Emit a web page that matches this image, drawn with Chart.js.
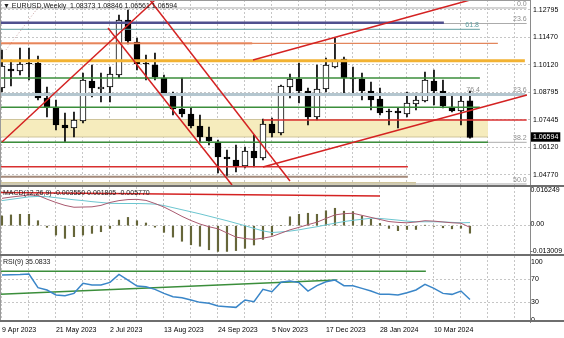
<!DOCTYPE html>
<html>
<head>
<meta charset="utf-8">
<script src="https://cdn.jsdelivr.net/npm/chart.js@4.4.1/dist/chart.umd.min.js"></script>
<style>
body { margin: 0; background: #fff; width: 564px; height: 338px; overflow: hidden; position: relative; }
canvas { position: absolute; left: 0; }
</style>
</head>
<body>
<canvas id="cPrice" width="564" height="187" style="top:0"></canvas>
<canvas id="cMacd" width="564" height="69" style="top:187px"></canvas>
<canvas id="cRsi" width="564" height="82" style="top:256px"></canvas>
<script>
// EURUSD weekly, 9 Apr 2023 .. 7 Apr 2024 (bar index 0..52)
const dateLabels = ['9 Apr 2023', '21 May 2023', '2 Jul 2023', '13 Aug 2023', '24 Sep 2023',
    '5 Nov 2023', '17 Dec 2023', '28 Jan 2024', '10 Mar 2024'];
const dateBars = [0, 6, 12, 18, 24, 30, 36, 42, 48];

const opens = [1.09001, 1.09925, 1.09828, 1.10217, 1.10217, 1.08515, 1.08077, 1.07201, 1.07056, 1.07396,
    1.09341, 1.08953, 1.09050, 1.09633, 1.12308, 1.11238, 1.10217, 1.10120, 1.09487, 1.08709,
    1.07979, 1.07736, 1.07153, 1.06617, 1.06375, 1.05645, 1.05499, 1.05207, 1.05937, 1.05596,
    1.07250, 1.06812, 1.09050, 1.09439, 1.08855, 1.07590, 1.08953, 1.10022, 1.10411, 1.09487,
    1.09439, 1.08855, 1.08466, 1.07882, 1.07882, 1.07736, 1.08223, 1.08369, 1.09341, 1.08855,
    1.08077, 1.07882, 1.08373];
const highs = [1.10849, 1.10363, 1.10946, 1.10946, 1.10557, 1.09050, 1.08417, 1.07785, 1.07834, 1.09730,
    1.10120, 1.09730, 1.10022, 1.12551, 1.12795, 1.11433, 1.10606, 1.10703, 1.09633, 1.08806,
    1.09487, 1.08028, 1.07688, 1.07104, 1.06472, 1.05985, 1.06229, 1.06132, 1.06715, 1.07493,
    1.07542, 1.09147, 1.09682, 1.10217, 1.09001, 1.10120, 1.10460, 1.11433, 1.10509, 1.10022,
    1.09730, 1.09293, 1.09001, 1.07979, 1.08028, 1.08806, 1.08758, 1.09779, 1.09876, 1.09390,
    1.08660, 1.08660, 1.08846];
const lows = [1.08806, 1.09098, 1.09633, 1.09390, 1.08417, 1.07590, 1.06958, 1.06375, 1.06617, 1.07299,
    1.08563, 1.08320, 1.08320, 1.09487, 1.11140, 1.09876, 1.09390, 1.09390, 1.08660, 1.07688,
    1.07590, 1.07056, 1.06375, 1.06229, 1.04867, 1.04721, 1.04916, 1.05110, 1.05159, 1.05499,
    1.06617, 1.06715, 1.08515, 1.08271, 1.07201, 1.07445, 1.08806, 1.09974, 1.08758, 1.08758,
    1.08417, 1.07931, 1.07688, 1.07201, 1.07056, 1.07590, 1.07931, 1.08320, 1.08174, 1.08028,
    1.07834, 1.07201, 1.06561];
const closes = [1.10071, 1.09828, 1.10168, 1.10168, 1.08515, 1.08077, 1.07201, 1.07056, 1.07445, 1.09390,
    1.09001, 1.09050, 1.09682, 1.12308, 1.11287, 1.10168, 1.10168, 1.09536, 1.08758, 1.07979,
    1.07736, 1.07153, 1.06617, 1.06423, 1.05645, 1.05547, 1.05159, 1.05937, 1.05596, 1.07250,
    1.06812, 1.09098, 1.09439, 1.08855, 1.07590, 1.08953, 1.10120, 1.10363, 1.09487, 1.09439,
    1.08855, 1.08417, 1.07785, 1.07834, 1.07785, 1.08271, 1.08417, 1.09390, 1.08855, 1.08126,
    1.07882, 1.08369, 1.06594];

const priceTicks = [1.12795, 1.11470, 1.10120, 1.08795, 1.07445, 1.06120, 1.04770];
const lastPrice = 1.06594;

// MACD(12,26,9)
const macdHist = [0.0047, 0.0052, 0.0055, 0.0055, 0.0024, -0.0008, -0.0045, -0.0061, -0.0053, -0.0045,
    -0.0037, -0.0029, -0.0013, 0.0027, 0.0040, 0.0024, 0.0013, -0.0007, -0.0032, -0.0055,
    -0.0075, -0.0092, -0.0099, -0.0116, -0.0124, -0.0124, -0.0120, -0.0109, -0.0093, -0.0066,
    -0.0045, 0.0000, 0.0043, 0.0055, 0.0060, 0.0055, 0.0072, 0.0084, 0.0070, 0.0068,
    0.0047, 0.0031, 0.0011, -0.0013, -0.0024, -0.0018, -0.0018, 0.0002, -0.0003, -0.0010,
    -0.0015, -0.0012, -0.0036];
const macdSignal = [0.0121, 0.0127, 0.0133, 0.0139, 0.0141, 0.0140, 0.0135, 0.0130, 0.0125, 0.0121,
    0.0116, 0.0112, 0.0108, 0.0107, 0.0107, 0.0107, 0.0106, 0.0104, 0.0097, 0.0087,
    0.0077, 0.0067, 0.0057, 0.0046, 0.0035, 0.0024, 0.0012, 0.0000, -0.0013, -0.0025,
    -0.0033, -0.0030, -0.0026, -0.0020, -0.0012, -0.0005, 0.0004, 0.0012, 0.0020, 0.0026,
    0.0031, 0.0036, 0.0035, 0.0031, 0.0027, 0.0022, 0.0019, 0.0019, 0.0019, 0.0018,
    0.0016, 0.0014, 0.0015];
const macdMain = [0.0132, 0.0138, 0.0143, 0.0148, 0.0146, 0.0128, 0.0112, 0.0098, 0.0089, 0.0090,
    0.0091, 0.0098, 0.0112, 0.0121, 0.0126, 0.0127, 0.0122, 0.0107, 0.0090, 0.0068,
    0.0045, 0.0025, 0.0008, -0.0005, -0.0015, -0.0035, -0.0055, -0.0062, -0.0066, -0.0060,
    -0.0052, -0.0036, -0.0020, -0.0008, 0.0005, 0.0017, 0.0035, 0.0052, 0.0058, 0.0060,
    0.0050, 0.0040, 0.0030, 0.0020, 0.0016, 0.0014, 0.0018, 0.0024, 0.0022, 0.0018,
    0.0014, 0.0012, -0.0008];
const macdTicks = [0.016249, 0, -0.013009];

// RSI(9)
const rsi9 = [77.2, 77.5, 78.0, 78.9, 55.4, 51.5, 42.9, 41.7, 45.7, 62.9,
    60.0, 60.0, 64.6, 78.3, 68.6, 58.3, 57.2, 52.6, 45.7, 40.0,
    38.3, 34.3, 30.3, 28.6, 24.0, 22.9, 21.7, 34.3, 31.4, 52.6,
    48.6, 64.7, 66.9, 64.2, 49.7, 58.9, 65.7, 68.6, 58.9, 58.9,
    54.3, 49.7, 44.0, 44.0, 42.9, 46.9, 51.5, 61.2, 54.3, 45.7,
    44.0, 49.7, 35.1];
const rsiTicks = [100, 70, 30, 0];

// drawn objects: [price, first bar, last bar]
const fibGray = [[1.12892, -1, 58.3], [1.12138, -1, 58.3], [1.08685, -1, 58.3], [1.06360, -1, 58.3], [1.04332, -1, 58.3]];
const navyLevel = [1.12177, -1, 49.1];
const tealLevel = [1.11856, -1, 53.1];
const orangeLevels = [[1.11175, -1, 55.1], [1.11175, -1, 27.8]];
const goldLevel = [1.10329, -1, 58.1];
const steelLevel = [1.08685, -1, 58.1];
const greenLevels = [[1.09488, -1, 53.1], [1.08062, -1, 53.1], [1.06360, -1, 54.0]];
const redLevels = [[1.07445, 29.0, 58.3], [1.05173, -1, 45.1]];
const brownLevel = [1.04687, -1, 45.1];
// zones: [top price, bottom price, last bar]
const zones = [[1.07469, 1.06618, 54.0], [1.04405, 1.04150, 46.0]];
// trend lines: [bar, price] pairs
const trendLines = [
    [[0, 1.06375], [17, 1.13281]],
    [[11.78, 1.11919], [25.56, 1.04283]],
    [[16.44, 1.13281], [32, 1.04478]],
    [[29, 1.05159], [58.33, 1.08661]],
    [[27.89, 1.10363], [52, 1.13281]]
];
const dottedLine = [[0.44, 1.10850], [4.22, 1.13038]];
const fibTexts = ['0.0', '23.6', '61.8', '76.4', '23.6', '38.2', '50.0'];
const fibTextBars = [58.3, 58.3, 53.0, 53.1, 58.3, 58.3, 58.3];
const fibTextPrices = [1.12892, 1.12138, 1.11856, 1.08685, 1.08685, 1.06360, 1.04332];

const macdLine = [[-1, 0.0161], [42, 0.0143]];
const rsiLevel = [83.5, -1, 47.1];
const rsiTrend = [[-0.22, 44.1], [37.2, 68.6]];

const xMin = -0.22, xMax = 58.67;
const gridBars = [];
for (let b = 0; b <= 57; b += 3) gridBars.push(b);

const fnt = { family: "'Liberation Sans', Arial, sans-serif", size: 7 };
const gridCol = '#c6c6c6';

function seg(points, color, width, dash) {
    return {
        type: 'line',
        data: points.map(p => ({ x: p[0], y: p[1] })),
        borderColor: color,
        borderWidth: width,
        borderDash: dash || [],
        pointRadius: 0,
        fill: false,
        clip: 0,
        order: 20
    };
}
function level(l, color, width) {
    return seg([[l[1], l[0]], [l[2], l[0]]], color, width);
}

function xAxis(showLabels) {
    return {
        type: 'linear',
        min: xMin,
        max: xMax,
        offset: false,
        grid: { color: gridCol, drawTicks: false, offset: false },
        border: { display: false, dash: [2, 2] },
        ticks: {
            display: showLabels,
            autoSkip: false,
            maxRotation: 0,
            align: 'start',
            padding: 4,
            color: '#000',
            font: fnt,
            callback: v => {
                const k = dateBars.indexOf(v);
                return k >= 0 ? dateLabels[k] : '';
            }
        },
        afterBuildTicks: s => { s.ticks = gridBars.map(v => ({ value: v })); },
        afterFit: s => {
            s.height = showLabels ? 16 : 0;
            s.paddingLeft = 0;
            s.paddingRight = 0;
        }
    };
}

function yAxis(min, max, ticks, fmt, gridOn, pad, shift) {
    return {
        type: 'linear',
        position: 'right',
        min: min,
        max: max,
        grid: {
            drawTicks: false,
            color: c => (c.tick && gridOn(c.tick.value)) ? gridCol : 'rgba(0,0,0,0)'
        },
        border: { display: true, color: '#8a8a8a', width: 1, dash: [2, 2] },
        ticks: {
            padding: pad,
            labelOffset: shift || 0,
            font: fnt,
            color: c => (c.tick && c.tick.value === lastPrice && fmt === fmtPrice) ? '#fff' : '#000',
            showLabelBackdrop: c => !!(c.tick && c.tick.value === lastPrice && fmt === fmtPrice),
            backdropColor: '#000',
            backdropPadding: { top: 1, bottom: 0, left: 2, right: 2 },
            callback: v => fmt(v)
        },
        afterBuildTicks: s => { s.ticks = ticks.map(v => ({ value: v })); },
        afterFit: s => {
            s.width = 34;
            s.paddingTop = 0;
            s.paddingBottom = 0;
        }
    };
}
const fmtPrice = v => v.toFixed(5);

// frame and texts
const panelPlugin = {
    id: 'panel',
    beforeDraw(chart) {
        const ctx = chart.ctx;
        ctx.save();
        ctx.fillStyle = '#fff';
        ctx.fillRect(0, 0, chart.width, chart.height);
        ctx.restore();
    },
    afterDraw(chart, args, opts) {
        const ctx = chart.ctx, a = chart.chartArea;
        ctx.save();
        ctx.strokeStyle = '#9a9a9a';
        ctx.lineWidth = 1;
        ctx.beginPath();
        ctx.moveTo(a.left + 0.5, a.top);
        ctx.lineTo(a.left + 0.5, a.bottom);
        ctx.stroke();
        ctx.strokeStyle = '#6e6e6e';
        ctx.lineWidth = 2;
        ctx.beginPath();
        ctx.moveTo(a.left, a.bottom - 1);
        ctx.lineTo(chart.width, a.bottom - 1);
        ctx.stroke();
        if (opts.topLine) {
            ctx.strokeStyle = '#9a9a9a';
            ctx.lineWidth = 1;
            ctx.beginPath();
            ctx.moveTo(a.left, a.top + 0.5);
            ctx.lineTo(a.right, a.top + 0.5);
            ctx.stroke();
        }
        ctx.font = fnt.size + 'px ' + fnt.family;
        ctx.textBaseline = 'middle';
        ctx.textAlign = 'left';
        ctx.fillStyle = '#202020';
        if (opts.title) ctx.fillText(opts.title, a.left + 3, a.top + 6);
        if (opts.fib) {
            const xs = chart.scales.x, ys = chart.scales.y;
            ctx.textAlign = 'right';
            ctx.textBaseline = 'bottom';
            fibTexts.forEach((t, k) => {
                ctx.fillStyle = t === '61.8' ? '#5f9ea0' : '#8e8e8e';
                ctx.fillText(t, xs.getPixelForValue(fibTextBars[k]), ys.getPixelForValue(fibTextPrices[k]) - 0.5);
            });
        }
        ctx.restore();
    }
};

const common = {
    responsive: false,
    animation: false,
    events: [],
    layout: { padding: 0 }
};

// price panel
const idx = opens.map((v, i) => i);
const priceSets = [];
zones.forEach(z => {
    const d = seg([[-1, z[0]], [z[2], z[0]]], '#cfc49a', 1);
    d.fill = { value: z[1] };
    d.backgroundColor = '#f6ecbd';
    d.order = 100;
    priceSets.push(d);
    const e = seg([[-1, z[1]], [z[2], z[1]]], '#cfc49a', 1);
    e.order = 99;
    priceSets.push(e);
});
priceSets.push({
    type: 'bar',
    data: idx.map(i => ({ x: i, y: [lows[i], highs[i]] })),
    backgroundColor: '#000',
    borderWidth: 0,
    barThickness: 1,
    grouped: false,
    order: 60
});
priceSets.push({
    type: 'bar',
    data: idx.map(i => ({ x: i, y: [opens[i], closes[i]] })),
    backgroundColor: idx.map(i => closes[i] >= opens[i] ? '#fff' : '#000'),
    borderColor: '#000',
    borderWidth: 1,
    borderSkipped: false,
    barThickness: 6,
    grouped: false,
    order: 50
});
fibGray.forEach(l => { const d = level(l, '#ababab', 1); d.order = 40; priceSets.push(d); });
priceSets.push(level(navyLevel, '#50508e', 2.5));
priceSets.push(level(tealLevel, '#5f9ea0', 1));
priceSets.push(level(orangeLevels[0], '#e3865c', 1.2));
priceSets.push(level(orangeLevels[1], '#f0602a', 1.8));
priceSets.push(level(goldLevel, '#f2b233', 3));
priceSets.push(level(steelLevel, '#b4c6cf', 3));
greenLevels.forEach(l => priceSets.push(level(l, '#3b8e3b', 1.5)));
redLevels.forEach(l => priceSets.push(level(l, '#d93030', 1.5)));
priceSets.push(level(brownLevel, '#a48a7a', 2));
trendLines.forEach(t => { const d = seg(t, '#d42222', 1.5); d.order = 10; priceSets.push(d); });
priceSets.push(seg(dottedLine, '#c9a3a3', 1, [1, 2]));

new Chart(document.getElementById('cPrice'), {
    type: 'bar',
    data: { datasets: priceSets },
    options: Object.assign({}, common, {
        scales: {
            x: xAxis(false),
            y: yAxis(1.04186, 1.13281, priceTicks.concat([lastPrice]), fmtPrice, v => v !== lastPrice, 3)
        },
        plugins: {
            legend: { display: false },
            tooltip: { enabled: false },
            panel: { topLine: true, fib: true, title: '\u25BC EURUSD,Weekly  1.08373 1.08846 1.06561 1.06594' }
        }
    }),
    plugins: [panelPlugin]
});

// MACD panel
new Chart(document.getElementById('cMacd'), {
    type: 'bar',
    data: {
        datasets: [
            {
                type: 'bar',
                data: idx.map(i => ({ x: i, y: macdHist[i] })),
                backgroundColor: '#66663a',
                barThickness: 1.5,
                grouped: false,
                order: 30
            },
            Object.assign(seg(idx.map(i => [i, macdSignal[i]]), '#6cc6d0', 1), { order: 25 }),
            Object.assign(seg(idx.map(i => [i, macdMain[i]]), '#aa5a70', 1), { order: 22 }),
            Object.assign(seg(macdLine, '#d42222', 1.5), { order: 5 })
        ]
    },
    options: Object.assign({}, common, {
        scales: {
            x: xAxis(false),
            y: yAxis(-0.01461, 0.01866, macdTicks, v => v === 0 ? '0.00' : v.toFixed(6), v => v === 0, 0.5, -1.5)
        },
        plugins: {
            legend: { display: false },
            tooltip: { enabled: false },
            panel: { title: 'MACD(12,26,9) -0.003550 0.001805 -0.005770' }
        }
    }),
    plugins: [panelPlugin]
});

// RSI panel
new Chart(document.getElementById('cRsi'), {
    type: 'line',
    data: {
        datasets: [
            Object.assign(seg(idx.map(i => [i, rsi9[i]]), '#3a86c8', 1.5), { order: 10 }),
            Object.assign(level(rsiLevel, '#3b8e3b', 1.5), { order: 20 }),
            Object.assign(seg(rsiTrend, '#3b8e3b', 1.5), { order: 20 })
        ]
    },
    options: Object.assign({}, common, {
        scales: {
            x: xAxis(true),
            y: yAxis(-3.4, 109.8, rsiTicks, v => String(v), v => v === 70 || v === 30, 1)
        },
        plugins: {
            legend: { display: false },
            tooltip: { enabled: false },
            panel: { title: 'RSI(9) 35.0833' }
        }
    }),
    plugins: [panelPlugin]
});
</script>
</body>
</html>
